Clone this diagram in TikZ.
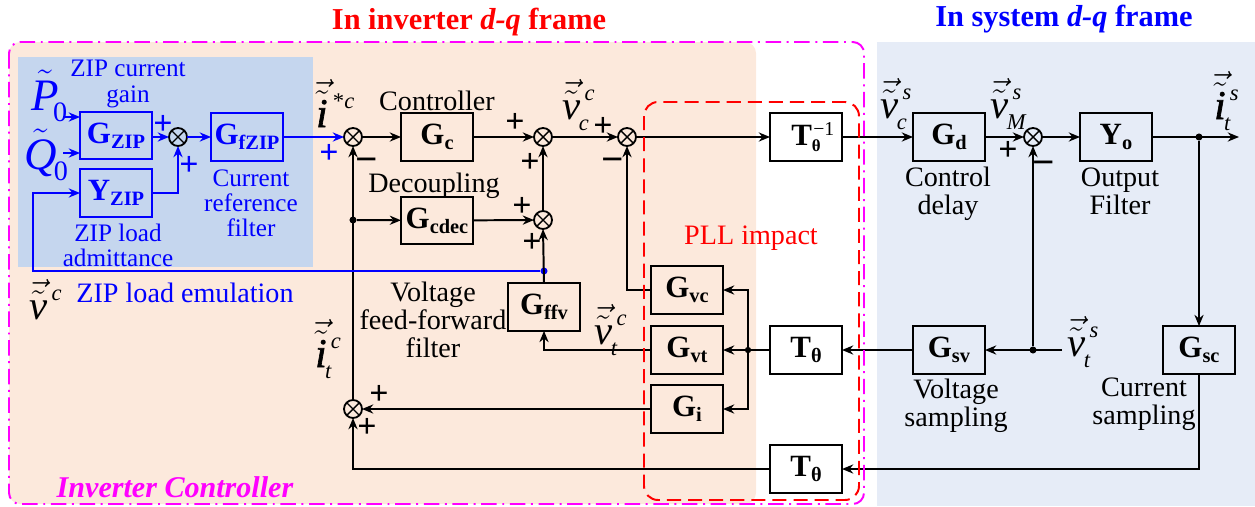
\documentclass[tikz,border=0pt]{standalone}
\usepackage{fix-cm}
\usepackage{fontspec}
\setmainfont{Liberation Serif}
\newfontface\ifat{Liberation Serif Italic}[FakeBold=1.6]
\usetikzlibrary{arrows.meta}

\definecolor{invbg}{HTML}{FCE9DC}
\definecolor{sysbg}{HTML}{E6ECF7}
\definecolor{zipbg}{HTML}{C5D6EE}
\definecolor{zipblue}{HTML}{0000FF}
\definecolor{ctlpink}{HTML}{FF00FF}
\definecolor{pllred}{HTML}{FF0000}

\newcommand{\fsz}[1]{\fontsize{#1}{#1}\selectfont}
\newcommand{\glab}[2]{\textbf{\fsz{22}#1\raisebox{-3.5pt}{\fsz{14.5}#2}}}
\newcommand{\base}[1]{$\vec{\tilde{\hbox{\fsz{29}\itshape #1}}}$}
\newcommand{\symb}[3]{\fsz{29}\base{#1}\rlap{\raisebox{13.5pt}{\fsz{16}\kern3pt\itshape #2}}\raisebox{-8pt}{\fsz{16}\kern-1pt\itshape #3}}

\tikzset{
  gbox/.style={draw,line width=1.4pt,minimum width=51.2pt,minimum height=34pt,inner sep=0pt,outer sep=0pt},
  sumnode/.style={circle,draw,line width=1.3pt,minimum size=12.8pt,inner sep=0pt,outer sep=0pt,
    path picture={\draw[line width=1pt] (path picture bounding box.north west)--(path picture bounding box.south east)
      (path picture bounding box.north east)--(path picture bounding box.south west);}},
  dotnode/.style={circle,fill,inner sep=0pt,minimum size=5pt},
  lab/.style={align=center,inner sep=0pt,font=\fsz{20},text depth=0pt},
  ziplab/.style={align=center,inner sep=0pt,font=\fsz{17.9},text=zipblue},
  sig/.style={inner sep=0pt,font=\bfseries\fsz{24}},
  sgn/.style={inner sep=0pt,font=\bfseries\fsz{28}},
  sym/.style={anchor=base west,inner sep=0pt},
  line/.style={line width=1.4pt},
  bline/.style={line width=1.4pt,draw=zipblue}
}

\begin{document}
\begin{tikzpicture}[x=.025cm,y=-.025cm,>={Stealth[length=8pt,width=6.5pt]}]
  \useasboundingbox (0,0) rectangle (1255,506);
  \fill[invbg,rounded corners=8pt] (9,42) rectangle (756,504);
  \fill[sysbg] (877,42) rectangle (1255,506);
  \fill[zipbg] (18,57) rectangle (313,267);

  \foreach \nm/\x/\y/\lab in {gc/437/137/{\glab{G}{c}},gcdec/437/220.5/{\glab{G}{cdec}},gffv/544/307/{\glab{G}{ffv}},
    gvc/687/290/{\glab{G}{vc}},gvt/687/350/{\glab{G}{vt}},gi/687/409/{\glab{G}{i}},
    tt/806/350/{\glab{T}{θ}},tb/806/469/{\glab{T}{θ}},
    gd/949/137/{\glab{G}{d}},gsv/949/350/{\glab{G}{sv}},yo/1116/137/{\glab{Y}{o}},gsc/1199/350/{\glab{G}{sc}}} {
    \node[gbox] (\nm) at (\x,\y) {\lab};
  }
  \node[gbox] (tinv) at (806,137) {\textbf{\fsz{22}T\rlap{\raisebox{7pt}{\kern1pt\fsz{14}\mdseries −1}}\raisebox{-4pt}{\fsz{12}θ}}};
  \foreach \nm/\x/\y/\lab in {gzip/116/135.5/{\glab{G}{ZIP}},yzip/116/193/{\glab{Y}{ZIP}},gfzip/247/137/{\glab{G}{fZIP}}} {
    \node[gbox,draw=zipblue,text=zipblue] (\nm) at (\x,\y) {\lab};
  }
  \foreach \nm/\x/\y in {sumz/178/137,sumi/353/137,sumb/543/137,sumc/627/137,sumd/543/220,sume/1033/137,sumf/353/409} {
    \node[sumnode] (\nm) at (\x,\y) {};
  }
  \node[dotnode] (ji) at (353,220) {};
  \node[dotnode,zipblue] (jb) at (544,271) {};
  \node[dotnode,minimum size=4.5pt] (jv) at (748,350) {};
  \node[dotnode] (js) at (1033,350) {};
  \node[dotnode] (jo) at (1199,137) {};
  \coordinate (pin) at (63,117);
  \coordinate (qin) at (63,153);
  \coordinate (vin) at (33,271);
  \coordinate (vts) at (1062,350);
  \coordinate (its) at (1239,137);

  \draw[bline,->] (pin) -- (pin -| gzip.west);
  \draw[bline,->] (qin) -- (qin -| gzip.west);
  \draw[bline,->] (gzip.east |- sumz) -- (sumz);
  \draw[bline,->] (yzip.east) -| (sumz);
  \draw[bline,->] (sumz) -- (gfzip);
  \draw[bline,->] (gfzip.east |- sumi) -- (sumi);
  \draw[line,->] (sumi) -- (gc);
  \draw[line,->] (gc) -- (sumb);
  \draw[line,->] (sumb) -- (sumc);
  \draw[line,->] (sumc) -- (tinv);
  \draw[line,->] (tinv) -- (gd);
  \draw[line,->] (gd) -- (sume);
  \draw[line,->] (sume) -- (yo);
  \draw[line,->] (yo) -- (its);
  \draw[line,->] (jo) -- (gsc);
  \draw[line,->] (gsc.south) |- (tb.east);
  \draw[line,->] (tb.west) -| (sumf.south);
  \draw[line,->] (sumf) -- (sumi);
  \draw[line,->] (ji) -- (gcdec);
  \draw[line,->] (gcdec) -- (sumd);
  \draw[line,->] (sumd) -- (sumb);
  \draw[line,->] (gffv.north) -- (sumd.south);
  \draw[line,->] (gvc.west) -| (sumc.south);
  \draw[line,->] (gvt.west) -| (gffv.south);
  \draw[line,->] (gi) -- (sumf);
  \draw[line,->] (tt) -- (gvt);
  \draw[line,->] (jv) |- (gvc.east);
  \draw[line,->] (jv) |- (gi.east);
  \draw[line,->] (gsv) -- (tt);
  \draw[line,->] (vts) -- (gsv);
  \draw[line,->] (js) -- (sume);
  \draw[bline,->] (jb) -- (vin) |- (yzip.west);

  \draw[ctlpink,line width=1.4pt,rounded corners=8pt,dash pattern=on 11pt off 4pt on 1.4pt off 4pt] (9,42) rectangle (864,504);
  \draw[pllred,line width=1.4pt,rounded corners=10pt,dash pattern=on 10pt off 5pt] (644,102) rectangle (859,500);

  \node[font=\bfseries\fsz{21.6},text=pllred,inner sep=0pt] (frinv) at (469,22) {In inverter \textit{d-q} frame};
  \node[font=\bfseries\fsz{21.6},text=zipblue,inner sep=0pt] (frsys) at (1064,19) {In system \textit{d-q} frame};
  \node[font=\bfseries\itshape\fsz{21.4},text=ctlpink,inner sep=0pt] (invctl) at (175,487) {Inverter Controller};
  \node[lab,text=pllred] (pll) at (751,235) {PLL impact};

  \node[ziplab] (zipgain) at (128,84) {ZIP current\\gain};
  \node[ziplab] (zipfilt) at (251,203) {Current\\reference\\filter};
  \node[ziplab] (zipadm) at (118,245) {ZIP load\\admittance};
  \node[ziplab,font=\fsz{20}] (zipemu) at (185,293) {ZIP load emulation};

  \node[lab] (lctl) at (437,101) {Controller};
  \node[lab] (ldec) at (434,183) {Decoupling};
  \node[lab] (lff) at (433,320) {Voltage\\feed-forward\\filter};
  \node[lab] (ldel) at (948,191) {Control\\delay};
  \node[lab] (lout) at (1120,191) {Output\\Filter};
  \node[lab] (lvs) at (956,403) {Voltage\\sampling};
  \node[lab] (lcs) at (1144,401) {Current\\sampling};

  \node[sym,text=zipblue] (sp) at (31,110) {\fsz{32}$\tilde{\hbox{\itshape P}}$\raisebox{-8pt}{\fsz{20}\kern-4pt 0}};
  \node[sym,text=zipblue] (sq) at (24,169) {\fsz{32}$\tilde{\hbox{\itshape Q}}$\raisebox{-8pt}{\fsz{20}\kern-2pt 0}};
  \node[sym] (si) at (316,127) {\symb{\ifat i}{*\kern1pt c}{}};
  \node[sym] (sit) at (315,367) {\symb{\ifat i}{c}{t}};
  \node[sym] (sis) at (1214,119) {\symb{\ifat i}{s}{t}};
  \node[sym] (svc) at (562,119) {\symb{v}{c}{c}};
  \node[sym] (svt) at (594,344) {\symb{v}{c}{t}};
  \node[sym] (sv) at (29,319) {\symb{v}{c}{}};
  \node[sym] (svcs) at (880,118) {\symb{v}{s}{c}};
  \node[sym] (svm) at (990,118) {\symb{v}{s}{M}};
  \node[sym] (svts) at (1067,356) {\symb{v}{s}{t}};

  \foreach \x/\y [count=\i] in {163/125,189/166,329/154} {
    \node[sig,text=zipblue] (bp\i) at (\x,\y) {+};
  }
  \foreach \x/\y [count=\i] in {515/123,603/127,530/163,522/207,532/243,1008/151,379/395,367/428} {
    \node[sig] (pl\i) at (\x,\y) {+};
  }
  \foreach \x/\y [count=\i] in {367/165,613/165,1044/168} {
    \node[sgn] (mn\i) at (\x,\y) {−};
  }
\end{tikzpicture}
\end{document}
